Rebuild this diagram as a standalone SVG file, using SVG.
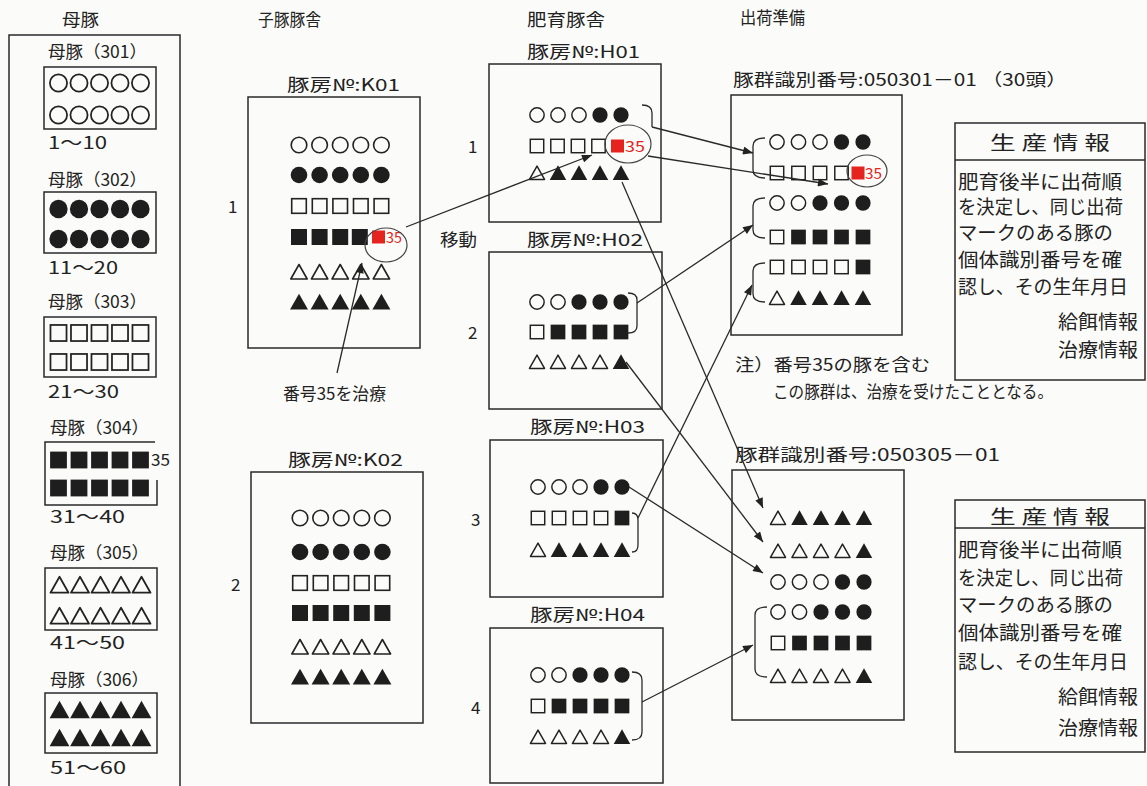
<svg xmlns="http://www.w3.org/2000/svg" xmlns:xlink="http://www.w3.org/1999/xlink" width="1147" height="786" viewBox="0 0 1147 786">
<style>
.t{font-family:"Noto Sans CJK JP","Noto Sans",sans-serif;fill:#222;font-size:17px}
.p{font-size:19px}
.r{fill:#e52420;font-size:15px}
.b{fill:none;stroke:#2a2a2a;stroke-width:1.5}
.e{fill:none;stroke:#444;stroke-width:1.2}
.c{fill:none;stroke:#2a2a2a;stroke-width:1.3}
</style>
<defs>
<circle id="oc" r="7.8" fill="none" stroke="#222" stroke-width="1.6"/>
<circle id="fc" r="8.3" fill="#1e1e1e"/>
<rect id="os" x="-7.3" y="-7.3" width="14.6" height="14.6" fill="none" stroke="#222" stroke-width="1.6"/>
<rect id="fs" x="-8" y="-8" width="16" height="16" fill="#1e1e1e"/>
<path id="ot" d="M0,-7.5 L8.2,7 L-8.2,7 Z" fill="none" stroke="#222" stroke-width="1.6" stroke-linejoin="round"/>
<path id="ft" d="M0,-8.3 L9,7.5 L-9,7.5 Z" fill="#1e1e1e"/>
<rect id="rs" x="-6.5" y="-6.5" width="13" height="13" fill="#e52420"/>
<marker id="ah" viewBox="0 0 10 8" refX="10" refY="4" markerWidth="11" markerHeight="8" markerUnits="userSpaceOnUse" orient="auto"><path d="M0,0 L10,4 L0,8 Z" fill="#222"/></marker>
</defs>
<rect width="1147" height="786" fill="#fbfbf9"/>

<!-- column titles -->
<g id="titles" class="t">
<text x="62" y="26" textLength="37" lengthAdjust="spacingAndGlyphs">母豚</text>
<text x="258" y="26" textLength="63" lengthAdjust="spacingAndGlyphs">子豚豚舎</text>
<text x="527" y="26" textLength="78" lengthAdjust="spacingAndGlyphs">肥育豚舎</text>
<text x="740" y="24" textLength="65" lengthAdjust="spacingAndGlyphs">出荷準備</text>
</g>

<!-- sow panel -->
<g id="sows">
<path class="b" d="M9,790 V35 H180 V790"/>
<g id="m301">
<text class="t" x="48" y="58" textLength="99" lengthAdjust="spacingAndGlyphs">母豚（301）</text>
<rect class="b" x="44" y="67" width="112" height="62"/>
<g transform="translate(0,83)"><use xlink:href="#oc" transform="translate(58.5,0) scale(1.1)"/><use xlink:href="#oc" transform="translate(79,0) scale(1.1)"/><use xlink:href="#oc" transform="translate(99.5,0) scale(1.1)"/><use xlink:href="#oc" transform="translate(120,0) scale(1.1)"/><use xlink:href="#oc" transform="translate(140.5,0) scale(1.1)"/></g>
<g transform="translate(0,115)"><use xlink:href="#oc" transform="translate(58.5,0) scale(1.1)"/><use xlink:href="#oc" transform="translate(79,0) scale(1.1)"/><use xlink:href="#oc" transform="translate(99.5,0) scale(1.1)"/><use xlink:href="#oc" transform="translate(120,0) scale(1.1)"/><use xlink:href="#oc" transform="translate(140.5,0) scale(1.1)"/></g>
<text class="t" x="48" y="149" textLength="59" lengthAdjust="spacingAndGlyphs">1～10</text>
</g>
<g id="m302">
<text class="t" x="48" y="186" textLength="99" lengthAdjust="spacingAndGlyphs">母豚（302）</text>
<rect class="b" x="44" y="192" width="112" height="61"/>
<g transform="translate(0,209)"><use xlink:href="#fc" transform="translate(58.5,0) scale(1.1)"/><use xlink:href="#fc" transform="translate(79,0) scale(1.1)"/><use xlink:href="#fc" transform="translate(99.5,0) scale(1.1)"/><use xlink:href="#fc" transform="translate(120,0) scale(1.1)"/><use xlink:href="#fc" transform="translate(140.5,0) scale(1.1)"/></g>
<g transform="translate(0,239)"><use xlink:href="#fc" transform="translate(58.5,0) scale(1.1)"/><use xlink:href="#fc" transform="translate(79,0) scale(1.1)"/><use xlink:href="#fc" transform="translate(99.5,0) scale(1.1)"/><use xlink:href="#fc" transform="translate(120,0) scale(1.1)"/><use xlink:href="#fc" transform="translate(140.5,0) scale(1.1)"/></g>
<text class="t" x="48" y="274" textLength="70" lengthAdjust="spacingAndGlyphs">11～20</text>
</g>
<g id="m303">
<text class="t" x="48" y="308" textLength="99" lengthAdjust="spacingAndGlyphs">母豚（303）</text>
<rect class="b" x="44" y="317" width="112" height="60"/>
<g transform="translate(0,333)"><use xlink:href="#os" transform="translate(58.5,0) scale(1.1)"/><use xlink:href="#os" transform="translate(79,0) scale(1.1)"/><use xlink:href="#os" transform="translate(99.5,0) scale(1.1)"/><use xlink:href="#os" transform="translate(120,0) scale(1.1)"/><use xlink:href="#os" transform="translate(140.5,0) scale(1.1)"/></g>
<g transform="translate(0,362)"><use xlink:href="#os" transform="translate(58.5,0) scale(1.1)"/><use xlink:href="#os" transform="translate(79,0) scale(1.1)"/><use xlink:href="#os" transform="translate(99.5,0) scale(1.1)"/><use xlink:href="#os" transform="translate(120,0) scale(1.1)"/><use xlink:href="#os" transform="translate(140.5,0) scale(1.1)"/></g>
<text class="t" x="48" y="398" textLength="71" lengthAdjust="spacingAndGlyphs">21～30</text>
</g>
<g id="m304">
<text class="t" x="50" y="434" textLength="99" lengthAdjust="spacingAndGlyphs">母豚（304）</text>
<path class="b" d="M155,442 H45 V505 H157 V480"/>
<g transform="translate(0,460)"><use xlink:href="#fs" transform="translate(58.5,0) scale(1.05)"/><use xlink:href="#fs" transform="translate(79,0) scale(1.05)"/><use xlink:href="#fs" transform="translate(99.5,0) scale(1.05)"/><use xlink:href="#fs" transform="translate(120,0) scale(1.05)"/><use xlink:href="#fs" transform="translate(140.5,0) scale(1.05)"/></g>
<text class="t" x="151" y="466" font-size="14" textLength="19" lengthAdjust="spacingAndGlyphs">35</text>
<g transform="translate(0,488)"><use xlink:href="#fs" transform="translate(58.5,0) scale(1.05)"/><use xlink:href="#fs" transform="translate(79,0) scale(1.05)"/><use xlink:href="#fs" transform="translate(99.5,0) scale(1.05)"/><use xlink:href="#fs" transform="translate(120,0) scale(1.05)"/><use xlink:href="#fs" transform="translate(140.5,0) scale(1.05)"/></g>
<text class="t" x="50" y="523" textLength="75" lengthAdjust="spacingAndGlyphs">31～40</text>
</g>
<g id="m305">
<text class="t" x="50" y="559" textLength="99" lengthAdjust="spacingAndGlyphs">母豚（305）</text>
<rect class="b" x="45" y="568" width="112" height="62"/>
<g transform="translate(0,585)"><use xlink:href="#ot" transform="translate(59.5,0) scale(1.1)"/><use xlink:href="#ot" transform="translate(80,0) scale(1.1)"/><use xlink:href="#ot" transform="translate(100.5,0) scale(1.1)"/><use xlink:href="#ot" transform="translate(121,0) scale(1.1)"/><use xlink:href="#ot" transform="translate(141.5,0) scale(1.1)"/></g>
<g transform="translate(0,616)"><use xlink:href="#ot" transform="translate(59.5,0) scale(1.1)"/><use xlink:href="#ot" transform="translate(80,0) scale(1.1)"/><use xlink:href="#ot" transform="translate(100.5,0) scale(1.1)"/><use xlink:href="#ot" transform="translate(121,0) scale(1.1)"/><use xlink:href="#ot" transform="translate(141.5,0) scale(1.1)"/></g>
<text class="t" x="50" y="649" textLength="75" lengthAdjust="spacingAndGlyphs">41～50</text>
</g>
<g id="m306">
<text class="t" x="50" y="686" textLength="99" lengthAdjust="spacingAndGlyphs">母豚（306）</text>
<rect class="b" x="45" y="693" width="112" height="60"/>
<g transform="translate(0,710)"><use xlink:href="#ft" transform="translate(59.5,0) scale(1.1)"/><use xlink:href="#ft" transform="translate(80,0) scale(1.1)"/><use xlink:href="#ft" transform="translate(100.5,0) scale(1.1)"/><use xlink:href="#ft" transform="translate(121,0) scale(1.1)"/><use xlink:href="#ft" transform="translate(141.5,0) scale(1.1)"/></g>
<g transform="translate(0,738)"><use xlink:href="#ft" transform="translate(59.5,0) scale(1.1)"/><use xlink:href="#ft" transform="translate(80,0) scale(1.1)"/><use xlink:href="#ft" transform="translate(100.5,0) scale(1.1)"/><use xlink:href="#ft" transform="translate(121,0) scale(1.1)"/><use xlink:href="#ft" transform="translate(141.5,0) scale(1.1)"/></g>
<text class="t" x="50" y="774" textLength="76" lengthAdjust="spacingAndGlyphs">51～60</text>
</g>
</g>

<!-- piglet pens -->
<g id="K01">
<text class="t" x="287" y="91" textLength="113" lengthAdjust="spacingAndGlyphs">豚房№:K01</text>
<text class="t" x="228" y="213">1</text>
<rect class="b" x="248" y="97" width="172" height="251"/>
<g transform="translate(0,145)"><use xlink:href="#oc" transform="translate(299,0)"/><use xlink:href="#oc" transform="translate(319.6,0)"/><use xlink:href="#oc" transform="translate(340.2,0)"/><use xlink:href="#oc" transform="translate(360.8,0)"/><use xlink:href="#oc" transform="translate(381.4,0)"/></g>
<g transform="translate(0,175)"><use xlink:href="#fc" transform="translate(299,0)"/><use xlink:href="#fc" transform="translate(319.6,0)"/><use xlink:href="#fc" transform="translate(340.2,0)"/><use xlink:href="#fc" transform="translate(360.8,0)"/><use xlink:href="#fc" transform="translate(381.4,0)"/></g>
<g transform="translate(0,206)"><use xlink:href="#os" transform="translate(299,0)"/><use xlink:href="#os" transform="translate(319.6,0)"/><use xlink:href="#os" transform="translate(340.2,0)"/><use xlink:href="#os" transform="translate(360.8,0)"/><use xlink:href="#os" transform="translate(381.4,0)"/></g>
<g transform="translate(0,237)"><use xlink:href="#fs" transform="translate(299,0)"/><use xlink:href="#fs" transform="translate(319.6,0)"/><use xlink:href="#fs" transform="translate(340.2,0)"/><use xlink:href="#fs" transform="translate(359.8,0)"/><use xlink:href="#rs" transform="translate(378.5,0)"/></g>
<text class="t r" x="386" y="243" textLength="16" lengthAdjust="spacingAndGlyphs">35</text>
<ellipse class="e" cx="386" cy="245" rx="21" ry="17"/>
<g transform="translate(0,272)"><use xlink:href="#ot" transform="translate(299,0)"/><use xlink:href="#ot" transform="translate(319.6,0)"/><use xlink:href="#ot" transform="translate(340.2,0)"/><use xlink:href="#ot" transform="translate(360.8,0)"/><use xlink:href="#ot" transform="translate(381.4,0)"/></g>
<g transform="translate(0,302)"><use xlink:href="#ft" transform="translate(299,0)"/><use xlink:href="#ft" transform="translate(319.6,0)"/><use xlink:href="#ft" transform="translate(340.2,0)"/><use xlink:href="#ft" transform="translate(360.8,0)"/><use xlink:href="#ft" transform="translate(381.4,0)"/></g>
</g>
<g id="treat-note">
<text class="t" x="283" y="400" textLength="103" lengthAdjust="spacingAndGlyphs">番号35を治療</text>
</g>
<g id="K02">
<text class="t" x="288" y="466" textLength="115" lengthAdjust="spacingAndGlyphs">豚房№:K02</text>
<text class="t" x="231" y="591">2</text>
<rect class="b" x="251" y="472" width="172" height="251"/>
<g transform="translate(0,518)"><use xlink:href="#oc" transform="translate(300,0)"/><use xlink:href="#oc" transform="translate(320.6,0)"/><use xlink:href="#oc" transform="translate(341.2,0)"/><use xlink:href="#oc" transform="translate(361.8,0)"/><use xlink:href="#oc" transform="translate(382.4,0)"/></g>
<g transform="translate(0,552)"><use xlink:href="#fc" transform="translate(300,0)"/><use xlink:href="#fc" transform="translate(320.6,0)"/><use xlink:href="#fc" transform="translate(341.2,0)"/><use xlink:href="#fc" transform="translate(361.8,0)"/><use xlink:href="#fc" transform="translate(382.4,0)"/></g>
<g transform="translate(0,583)"><use xlink:href="#os" transform="translate(300,0)"/><use xlink:href="#os" transform="translate(320.6,0)"/><use xlink:href="#os" transform="translate(341.2,0)"/><use xlink:href="#os" transform="translate(361.8,0)"/><use xlink:href="#os" transform="translate(382.4,0)"/></g>
<g transform="translate(0,613)"><use xlink:href="#fs" transform="translate(300,0)"/><use xlink:href="#fs" transform="translate(320.6,0)"/><use xlink:href="#fs" transform="translate(341.2,0)"/><use xlink:href="#fs" transform="translate(361.8,0)"/><use xlink:href="#fs" transform="translate(382.4,0)"/></g>
<g transform="translate(0,647)"><use xlink:href="#ot" transform="translate(300,0)"/><use xlink:href="#ot" transform="translate(320.6,0)"/><use xlink:href="#ot" transform="translate(341.2,0)"/><use xlink:href="#ot" transform="translate(361.8,0)"/><use xlink:href="#ot" transform="translate(382.4,0)"/></g>
<g transform="translate(0,677)"><use xlink:href="#ft" transform="translate(300,0)"/><use xlink:href="#ft" transform="translate(320.6,0)"/><use xlink:href="#ft" transform="translate(341.2,0)"/><use xlink:href="#ft" transform="translate(361.8,0)"/><use xlink:href="#ft" transform="translate(382.4,0)"/></g>
</g>
<g id="move-label"><text class="t" x="440" y="246" textLength="37" lengthAdjust="spacingAndGlyphs">移動</text></g>

<!-- fattening pens -->
<g id="H01">
<text class="t" x="527" y="58" textLength="113" lengthAdjust="spacingAndGlyphs">豚房№:H01</text>
<text class="t" x="468" y="153">1</text>
<rect class="b" x="489" y="64" width="172" height="158"/>
<g transform="translate(0,115)"><use xlink:href="#oc" transform="translate(537,0) scale(0.92)"/><use xlink:href="#oc" transform="translate(558,0) scale(0.92)"/><use xlink:href="#oc" transform="translate(579,0) scale(0.92)"/><use xlink:href="#fc" transform="translate(600,0) scale(0.92)"/><use xlink:href="#fc" transform="translate(621,0) scale(0.92)"/></g>
<g transform="translate(0,146)"><use xlink:href="#os" transform="translate(537,0) scale(0.92)"/><use xlink:href="#os" transform="translate(557.5,0) scale(0.92)"/><use xlink:href="#os" transform="translate(578,0) scale(0.92)"/><use xlink:href="#os" transform="translate(598.5,0) scale(0.92)"/><use xlink:href="#rs" transform="translate(617.5,0)"/></g>
<text class="t r" x="625" y="152" textLength="20" lengthAdjust="spacingAndGlyphs">35</text>
<ellipse class="e" cx="628" cy="144" rx="23" ry="19"/>
<g transform="translate(0,173)"><use xlink:href="#ot" transform="translate(537,0) scale(0.92)"/><use xlink:href="#ft" transform="translate(558,0) scale(0.92)"/><use xlink:href="#ft" transform="translate(579,0) scale(0.92)"/><use xlink:href="#ft" transform="translate(600,0) scale(0.92)"/><use xlink:href="#ft" transform="translate(621,0) scale(0.92)"/></g>
<path class="c" d="M642,105 Q652,105 652,113 V127"/>
</g>
<g id="H02">
<text class="t" x="527" y="246" textLength="116" lengthAdjust="spacingAndGlyphs">豚房№:H02</text>
<text class="t" x="468" y="339">2</text>
<rect class="b" x="489" y="252" width="173" height="157"/>
<g transform="translate(0,302)"><use xlink:href="#oc" transform="translate(537,0) scale(0.92)"/><use xlink:href="#oc" transform="translate(558,0) scale(0.92)"/><use xlink:href="#fc" transform="translate(579,0) scale(0.92)"/><use xlink:href="#fc" transform="translate(600,0) scale(0.92)"/><use xlink:href="#fc" transform="translate(621,0) scale(0.92)"/></g>
<g transform="translate(0,332)"><use xlink:href="#os" transform="translate(537,0) scale(0.92)"/><use xlink:href="#fs" transform="translate(558,0) scale(0.92)"/><use xlink:href="#fs" transform="translate(579,0) scale(0.92)"/><use xlink:href="#fs" transform="translate(600,0) scale(0.92)"/><use xlink:href="#fs" transform="translate(621,0) scale(0.92)"/></g>
<g transform="translate(0,362)"><use xlink:href="#ot" transform="translate(537,0) scale(0.92)"/><use xlink:href="#ot" transform="translate(558,0) scale(0.92)"/><use xlink:href="#ot" transform="translate(579,0) scale(0.92)"/><use xlink:href="#ot" transform="translate(600,0) scale(0.92)"/><use xlink:href="#ft" transform="translate(621,0) scale(0.92)"/></g>
<path class="c" d="M628,293 Q637,293 637,300 V326 Q637,333 628,333"/>
</g>
<g id="H03">
<text class="t" x="530" y="433" textLength="115" lengthAdjust="spacingAndGlyphs">豚房№:H03</text>
<text class="t" x="471" y="526">3</text>
<rect class="b" x="490" y="440" width="173" height="157"/>
<g transform="translate(0,487)"><use xlink:href="#oc" transform="translate(538,0) scale(0.92)"/><use xlink:href="#oc" transform="translate(559,0) scale(0.92)"/><use xlink:href="#oc" transform="translate(580,0) scale(0.92)"/><use xlink:href="#fc" transform="translate(601,0) scale(0.92)"/><use xlink:href="#fc" transform="translate(622,0) scale(0.92)"/></g>
<g transform="translate(0,518)"><use xlink:href="#os" transform="translate(538,0) scale(0.92)"/><use xlink:href="#os" transform="translate(559,0) scale(0.92)"/><use xlink:href="#os" transform="translate(580,0) scale(0.92)"/><use xlink:href="#os" transform="translate(601,0) scale(0.92)"/><use xlink:href="#fs" transform="translate(622,0) scale(0.92)"/></g>
<g transform="translate(0,550)"><use xlink:href="#ot" transform="translate(538,0) scale(0.92)"/><use xlink:href="#ft" transform="translate(559,0) scale(0.92)"/><use xlink:href="#ft" transform="translate(580,0) scale(0.92)"/><use xlink:href="#ft" transform="translate(601,0) scale(0.92)"/><use xlink:href="#ft" transform="translate(622,0) scale(0.92)"/></g>
<path class="c" d="M632,513 Q638,513 638,520 V545 Q638,552 632,552"/>
</g>
<g id="H04">
<text class="t" x="530" y="621" textLength="115" lengthAdjust="spacingAndGlyphs">豚房№:H04</text>
<text class="t" x="471" y="714">4</text>
<rect class="b" x="490" y="628" width="173" height="155"/>
<g transform="translate(0,675)"><use xlink:href="#oc" transform="translate(538,0) scale(0.92)"/><use xlink:href="#oc" transform="translate(559,0) scale(0.92)"/><use xlink:href="#fc" transform="translate(580,0) scale(0.92)"/><use xlink:href="#fc" transform="translate(601,0) scale(0.92)"/><use xlink:href="#fc" transform="translate(622,0) scale(0.92)"/></g>
<g transform="translate(0,706)"><use xlink:href="#os" transform="translate(538,0) scale(0.92)"/><use xlink:href="#fs" transform="translate(559,0) scale(0.92)"/><use xlink:href="#fs" transform="translate(580,0) scale(0.92)"/><use xlink:href="#fs" transform="translate(601,0) scale(0.92)"/><use xlink:href="#fs" transform="translate(622,0) scale(0.92)"/></g>
<g transform="translate(0,737)"><use xlink:href="#ot" transform="translate(538,0) scale(0.92)"/><use xlink:href="#ot" transform="translate(559,0) scale(0.92)"/><use xlink:href="#ot" transform="translate(580,0) scale(0.92)"/><use xlink:href="#ot" transform="translate(601,0) scale(0.92)"/><use xlink:href="#ft" transform="translate(622,0) scale(0.92)"/></g>
<path class="c" d="M632,672 Q642,672 642,680 V732 Q642,740 632,740"/>
</g>

<!-- shipping groups -->
<g id="S1">
<text class="t" x="733" y="86" textLength="334" lengthAdjust="spacingAndGlyphs">豚群識別番号:050301－01 （30頭）</text>
<rect class="b" x="731" y="95" width="171" height="240"/>
<g transform="translate(0,142)"><use xlink:href="#oc" transform="translate(777,0) scale(0.92)"/><use xlink:href="#oc" transform="translate(798.5,0) scale(0.92)"/><use xlink:href="#oc" transform="translate(820,0) scale(0.92)"/><use xlink:href="#fc" transform="translate(841.5,0) scale(0.92)"/><use xlink:href="#fc" transform="translate(863,0) scale(0.92)"/></g>
<g transform="translate(0,173)"><use xlink:href="#os" transform="translate(777,0) scale(0.92)"/><use xlink:href="#os" transform="translate(798.5,0) scale(0.92)"/><use xlink:href="#os" transform="translate(820,0) scale(0.92)"/><use xlink:href="#os" transform="translate(841.5,0) scale(0.92)"/><use xlink:href="#rs" transform="translate(858,0)"/></g>
<text class="t r" x="865" y="179" textLength="17" lengthAdjust="spacingAndGlyphs">35</text>
<ellipse class="e" cx="867" cy="171" rx="20" ry="16"/>
<g transform="translate(0,203)"><use xlink:href="#oc" transform="translate(777,0) scale(0.92)"/><use xlink:href="#oc" transform="translate(798.5,0) scale(0.92)"/><use xlink:href="#fc" transform="translate(820,0) scale(0.92)"/><use xlink:href="#fc" transform="translate(841.5,0) scale(0.92)"/><use xlink:href="#fc" transform="translate(863,0) scale(0.92)"/></g>
<g transform="translate(0,237)"><use xlink:href="#os" transform="translate(777,0) scale(0.92)"/><use xlink:href="#fs" transform="translate(798.5,0) scale(0.92)"/><use xlink:href="#fs" transform="translate(820,0) scale(0.92)"/><use xlink:href="#fs" transform="translate(841.5,0) scale(0.92)"/><use xlink:href="#fs" transform="translate(863,0) scale(0.92)"/></g>
<g transform="translate(0,267)"><use xlink:href="#os" transform="translate(777,0) scale(0.92)"/><use xlink:href="#os" transform="translate(798.5,0) scale(0.92)"/><use xlink:href="#os" transform="translate(820,0) scale(0.92)"/><use xlink:href="#os" transform="translate(841.5,0) scale(0.92)"/><use xlink:href="#fs" transform="translate(863,0) scale(0.92)"/></g>
<g transform="translate(0,298)"><use xlink:href="#ot" transform="translate(777,0) scale(0.92)"/><use xlink:href="#ft" transform="translate(798.5,0) scale(0.92)"/><use xlink:href="#ft" transform="translate(820,0) scale(0.92)"/><use xlink:href="#ft" transform="translate(841.5,0) scale(0.92)"/><use xlink:href="#ft" transform="translate(863,0) scale(0.92)"/></g>
<path class="c" d="M765,138 Q753,138 753,146 V170 Q753,178 765,178"/>
<path class="c" d="M765,198 Q753,198 753,206 V230 Q753,238 765,238"/>
<path class="c" d="M765,263 Q753,263 753,271 V294 Q753,302 765,302"/>
<text class="t" x="735" y="371" textLength="195" lengthAdjust="spacingAndGlyphs">注）番号35の豚を含む</text>
<text class="t" x="773" y="398" textLength="280" lengthAdjust="spacingAndGlyphs">この豚群は、治療を受けたこととなる。</text>
</g>
<g id="S2">
<text class="t" x="735" y="461" textLength="265" lengthAdjust="spacingAndGlyphs">豚群識別番号:050305－01</text>
<rect class="b" x="732" y="470" width="172" height="250"/>
<g transform="translate(0,518)"><use xlink:href="#ot" transform="translate(778,0) scale(0.92)"/><use xlink:href="#ft" transform="translate(799.5,0) scale(0.92)"/><use xlink:href="#ft" transform="translate(821,0) scale(0.92)"/><use xlink:href="#ft" transform="translate(842.5,0) scale(0.92)"/><use xlink:href="#ft" transform="translate(864,0) scale(0.92)"/></g>
<g transform="translate(0,551)"><use xlink:href="#ot" transform="translate(778,0) scale(0.92)"/><use xlink:href="#ot" transform="translate(799.5,0) scale(0.92)"/><use xlink:href="#ot" transform="translate(821,0) scale(0.92)"/><use xlink:href="#ot" transform="translate(842.5,0) scale(0.92)"/><use xlink:href="#ft" transform="translate(864,0) scale(0.92)"/></g>
<g transform="translate(0,582)"><use xlink:href="#oc" transform="translate(778,0) scale(0.92)"/><use xlink:href="#oc" transform="translate(799.5,0) scale(0.92)"/><use xlink:href="#oc" transform="translate(821,0) scale(0.92)"/><use xlink:href="#fc" transform="translate(842.5,0) scale(0.92)"/><use xlink:href="#fc" transform="translate(864,0) scale(0.92)"/></g>
<g transform="translate(0,612)"><use xlink:href="#oc" transform="translate(778,0) scale(0.92)"/><use xlink:href="#oc" transform="translate(799.5,0) scale(0.92)"/><use xlink:href="#fc" transform="translate(821,0) scale(0.92)"/><use xlink:href="#fc" transform="translate(842.5,0) scale(0.92)"/><use xlink:href="#fc" transform="translate(864,0) scale(0.92)"/></g>
<g transform="translate(0,643)"><use xlink:href="#os" transform="translate(778,0) scale(0.92)"/><use xlink:href="#fs" transform="translate(799.5,0) scale(0.92)"/><use xlink:href="#fs" transform="translate(821,0) scale(0.92)"/><use xlink:href="#fs" transform="translate(842.5,0) scale(0.92)"/><use xlink:href="#fs" transform="translate(864,0) scale(0.92)"/></g>
<g transform="translate(0,676)"><use xlink:href="#ot" transform="translate(778,0) scale(0.92)"/><use xlink:href="#ot" transform="translate(799.5,0) scale(0.92)"/><use xlink:href="#ot" transform="translate(821,0) scale(0.92)"/><use xlink:href="#ot" transform="translate(842.5,0) scale(0.92)"/><use xlink:href="#ft" transform="translate(864,0) scale(0.92)"/></g>
<path class="c" d="M767,607 Q755,607 755,615 V669 Q755,677 767,677"/>
</g>

<!-- production info boxes -->
<g id="P1">
<rect class="b" x="955" y="123" width="190" height="257"/>
<line class="b" x1="955" y1="160" x2="1145" y2="160"/>
<text class="t p" x="990" y="150" textLength="120" lengthAdjust="spacingAndGlyphs">生 産 情 報</text>
<text class="t p" x="958" y="189" textLength="164" lengthAdjust="spacingAndGlyphs">肥育後半に出荷順</text>
<text class="t p" x="958" y="214" textLength="165" lengthAdjust="spacingAndGlyphs">を決定し、同じ出荷</text>
<text class="t p" x="958" y="240" textLength="155" lengthAdjust="spacingAndGlyphs">マークのある豚の</text>
<text class="t p" x="958" y="267" textLength="164" lengthAdjust="spacingAndGlyphs">個体識別番号を確</text>
<text class="t p" x="958" y="294" textLength="170" lengthAdjust="spacingAndGlyphs">認し、その生年月日</text>
<text class="t p" x="1058" y="329" textLength="80" lengthAdjust="spacingAndGlyphs">給餌情報</text>
<text class="t p" x="1058" y="357" textLength="80" lengthAdjust="spacingAndGlyphs">治療情報</text>
</g>
<g id="P2">
<rect class="b" x="955" y="500" width="190" height="252"/>
<line class="b" x1="955" y1="528" x2="1145" y2="528"/>
<text class="t p" x="990" y="524" textLength="120" lengthAdjust="spacingAndGlyphs">生 産 情 報</text>
<text class="t p" x="958" y="557" textLength="164" lengthAdjust="spacingAndGlyphs">肥育後半に出荷順</text>
<text class="t p" x="958" y="585" textLength="165" lengthAdjust="spacingAndGlyphs">を決定し、同じ出荷</text>
<text class="t p" x="958" y="612" textLength="155" lengthAdjust="spacingAndGlyphs">マークのある豚の</text>
<text class="t p" x="958" y="640" textLength="164" lengthAdjust="spacingAndGlyphs">個体識別番号を確</text>
<text class="t p" x="958" y="669" textLength="170" lengthAdjust="spacingAndGlyphs">認し、その生年月日</text>
<text class="t p" x="1058" y="704" textLength="80" lengthAdjust="spacingAndGlyphs">給餌情報</text>
<text class="t p" x="1058" y="735" textLength="80" lengthAdjust="spacingAndGlyphs">治療情報</text>
</g>

<!-- connectors -->
<g id="connectors" class="c" marker-end="url(#ah)">
<path d="M406,227 L592,155"/>
<path d="M337,373 L362,263"/>
<path d="M652,127 L753,153"/>
<path d="M648,156 L828,184"/>
<path d="M622,182 L763,508"/>
<path d="M637,303 L753,225"/>
<path d="M626,362 L763,542"/>
<path d="M629,487 L763,573"/>
<path d="M638,518 L752,285"/>
<path d="M642,702 L753,645"/>
</g>
</svg>
